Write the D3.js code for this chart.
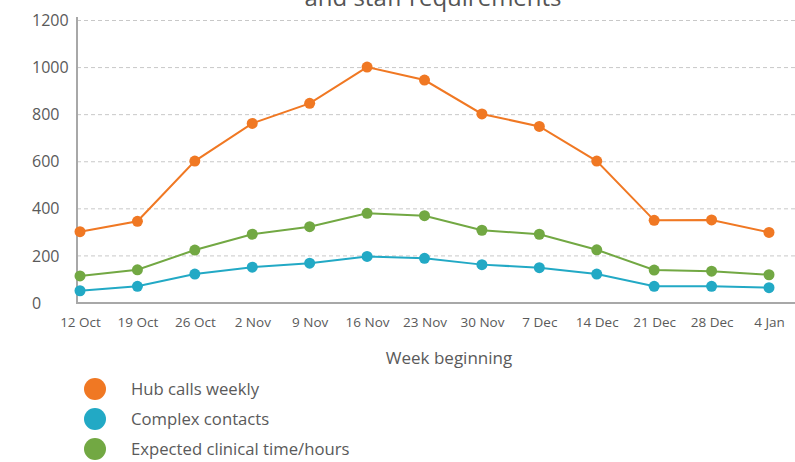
<!DOCTYPE html>
<html>
<head>
<meta charset="utf-8">
<script src="https://cdn.jsdelivr.net/npm/d3@7"></script>
<style>
  body { margin: 0; background: #fff; }
  svg { display: block; font-family: "Open Sans", sans-serif; }
</style>
</head>
<body>
<div id="chart"></div>
<script>
var weeks = ["12 Oct", "19 Oct", "26 Oct", "2 Nov", "9 Nov", "16 Nov", "23 Nov",
             "30 Nov", "7 Dec", "14 Dec", "21 Dec", "28 Dec", "4 Jan"];
var hubCalls = [303, 347, 603, 763, 848, 1002, 947, 803, 750, 603, 351, 353, 300];
var complexContacts = [52, 71, 123, 152, 169, 198, 190, 163, 150, 123, 71, 71, 65];
var clinicalTime = [115, 141, 225, 292, 324, 381, 371, 309, 292, 226, 140, 135, 120];
var yTicks = [0, 200, 400, 600, 800, 1000, 1200];
var seriesNames = ["Hub calls weekly", "Complex contacts", "Expected clinical time/hours"];
var seriesColors = ["#f07823", "#22a9c5", "#72a843"];

function draw() {
    var W = 795, H = 462;
    var margin = {top: 20.5, right: 0, bottom: 159, left: 77};

    var svg = d3.select("#chart").append("svg")
        .attr("width", W)
        .attr("height", H);

    var x = d3.scalePoint().domain(weeks).range([80, 769]);
    var y = d3.scaleLinear().domain([0, 1200]).range([303, 20.5]);

    // title (cut off at top)
    svg.append("text")
        .attr("x", 433)
        .attr("y", 6)
        .attr("text-anchor", "middle")
        .attr("font-size", 24)
        .attr("fill", "#555")
        .text("and staff requirements");

    // grid
    svg.append("g").selectAll("line")
        .data(yTicks.filter(function(d) { return d > 0; }))
        .enter().append("line")
        .attr("x1", margin.left)
        .attr("x2", W)
        .attr("y1", function(d) { return y(d); })
        .attr("y2", function(d) { return y(d); })
        .attr("stroke", "#c8c8c8")
        .attr("stroke-width", 1)
        .attr("stroke-dasharray", "4,3");

    // y axis, labels left aligned
    var yAxis = d3.axisLeft(y).tickValues(yTicks).tickSize(0).tickFormat(d3.format("d"));
    var gy = svg.append("g")
        .attr("transform", "translate(32,0)")
        .call(yAxis);
    gy.select(".domain").remove();
    gy.selectAll("text")
        .attr("x", 0)
        .attr("text-anchor", "start")
        .attr("font-size", 16)
        .attr("fill", "#5a5a5a")
        .attr("font-family", "Open Sans, sans-serif");

    svg.append("line")
        .attr("x1", margin.left).attr("x2", margin.left)
        .attr("y1", 17).attr("y2", 304)
        .attr("stroke", "#a8a8a8").attr("stroke-width", 2);

    // x axis
    var xAxis = d3.axisBottom(x).tickSize(0).tickPadding(14);
    var gx = svg.append("g")
        .attr("transform", "translate(0,303)")
        .call(xAxis);
    gx.select(".domain").remove();
    gx.selectAll("text")
        .attr("font-size", 13.5)
        .attr("fill", "#5a5a5a")
        .attr("font-family", "Open Sans, sans-serif");

    svg.append("line")
        .attr("x1", margin.left - 1).attr("x2", W)
        .attr("y1", 303).attr("y2", 303)
        .attr("stroke", "#a8a8a8").attr("stroke-width", 2);

    svg.append("text")
        .attr("x", 449)
        .attr("y", 364)
        .attr("text-anchor", "middle")
        .attr("font-size", 17)
        .attr("fill", "#5a5a5a")
        .text("Week beginning");

    // series
    var allSeries = [hubCalls, complexContacts, clinicalTime];
    var line = d3.line()
        .x(function(d, i) { return x(weeks[i]); })
        .y(function(d) { return y(d); });

    // draw blue, green, orange order
    [1, 2, 0].forEach(function(s) {
        var g = svg.append("g");
        g.append("path")
            .datum(allSeries[s])
            .attr("d", line)
            .attr("fill", "none")
            .attr("stroke", seriesColors[s])
            .attr("stroke-width", 2);
        g.selectAll("circle")
            .data(allSeries[s])
            .enter().append("circle")
            .attr("cx", function(d, i) { return x(weeks[i]); })
            .attr("cy", function(d) { return y(d); })
            .attr("r", 5.5)
            .attr("fill", seriesColors[s]);
    });

    // legend
    var legend = svg.append("g").selectAll("g")
        .data(seriesNames)
        .enter().append("g")
        .attr("transform", function(d, i) { return "translate(95," + (389 + i * 30) + ")"; });
    legend.append("circle")
        .attr("r", 11)
        .attr("fill", function(d, i) { return seriesColors[i]; });
    legend.append("text")
        .attr("x", 36)
        .attr("y", 6)
        .attr("font-size", 16.7)
        .attr("fill", "#5a5a5a")
        .text(function(d) { return d; });
}
draw();
</script>
</body>
</html>
